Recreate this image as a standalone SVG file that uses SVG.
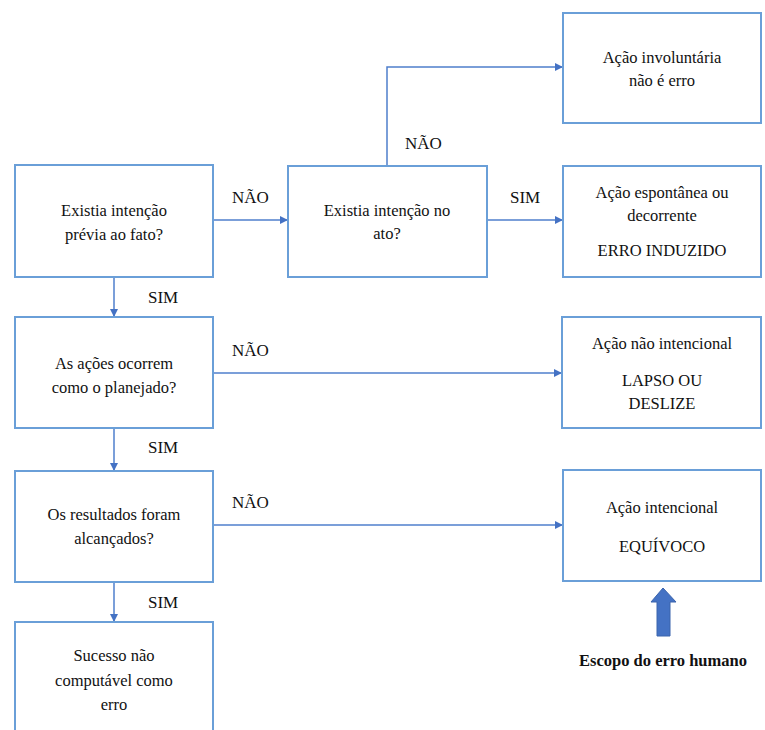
<svg xmlns="http://www.w3.org/2000/svg" width="765" height="730" viewBox="0 0 765 730">
<style>
.box{fill:#fff;stroke:#6a9fd8;stroke-width:2}
.t{font-size:16.5px;text-anchor:middle;fill:#111}
.l{font-size:17px;fill:#111}
.c{fill:none;stroke:#4f7fcc;stroke-width:1.5}
.b{font-size:16.5px;font-weight:bold;text-anchor:middle;fill:#111}
</style>
<defs>
<marker id="ah" viewBox="0 0 10 10" refX="10" refY="5" markerWidth="8" markerHeight="8" markerUnits="userSpaceOnUse" orient="auto">
<path d="M0,0 L10,5 L0,10 z" fill="#4472c4"/>
</marker>
</defs>
<rect width="765" height="730" fill="#fff"/>
<g font-family="Liberation Serif, Times New Roman, Times, serif">
<g id="connectors">
<path class="c" d="M213,220 H288" marker-end="url(#ah)"/>
<path class="c" d="M387,166 V67 H563" marker-end="url(#ah)"/>
<path class="c" d="M487,220 H563" marker-end="url(#ah)"/>
<path class="c" d="M114,277 V317" marker-end="url(#ah)"/>
<path class="c" d="M213,373 H562" marker-end="url(#ah)"/>
<path class="c" d="M114,428 V471" marker-end="url(#ah)"/>
<path class="c" d="M213,525 H563" marker-end="url(#ah)"/>
<path class="c" d="M114,582 V622" marker-end="url(#ah)"/>
<text class="l" x="232" y="203">NÃO</text>
<text class="l" x="405" y="149">NÃO</text>
<text class="l" x="510" y="203">SIM</text>
<text class="l" x="148" y="303">SIM</text>
<text class="l" x="232" y="356">NÃO</text>
<text class="l" x="148" y="453">SIM</text>
<text class="l" x="232" y="508">NÃO</text>
<text class="l" x="148" y="608">SIM</text>
</g>
<g id="n1"><rect class="box" x="15" y="165" width="198" height="112"/>
<text class="t" x="114" y="216">Existia intenção</text><text class="t" x="114" y="240">prévia ao fato?</text></g>
<g id="n2"><rect class="box" x="288" y="166" width="199" height="111"/>
<text class="t" x="387" y="216">Existia intenção no</text><text class="t" x="387" y="239">ato?</text></g>
<g id="n3"><rect class="box" x="563" y="13" width="198" height="110"/>
<text class="t" x="662" y="63">Ação involuntária</text><text class="t" x="662" y="86">não é erro</text></g>
<g id="n4"><rect class="box" x="563" y="166" width="198" height="111"/>
<text class="t" x="662" y="198">Ação espontânea ou</text><text class="t" x="662" y="221">decorrente</text><text class="t" x="662" y="256">ERRO INDUZIDO</text></g>
<g id="n5"><rect class="box" x="15" y="317" width="198" height="111"/>
<text class="t" x="114" y="369">As ações ocorrem</text><text class="t" x="114" y="393">como o planejado?</text></g>
<g id="n6"><rect class="box" x="562" y="317" width="199" height="111"/>
<text class="t" x="662" y="349">Ação não intencional</text><text class="t" x="662" y="386">LAPSO OU</text><text class="t" x="662" y="409">DESLIZE</text></g>
<g id="n7"><rect class="box" x="15" y="471" width="198" height="111"/>
<text class="t" x="114" y="520">Os resultados foram</text><text class="t" x="114" y="544">alcançados?</text></g>
<g id="n8"><rect class="box" x="563" y="470" width="198" height="111"/>
<text class="t" x="662" y="513">Ação intencional</text><text class="t" x="662" y="552">EQUÍVOCO</text></g>
<g id="n9"><rect class="box" x="15" y="622" width="198" height="120"/>
<text class="t" x="114" y="661">Sucesso não</text><text class="t" x="114" y="686">computável como</text><text class="t" x="114" y="710">erro</text></g>
<g id="scope">
<path d="M663,588 L676,602 L670,602 L670,636 L657,636 L657,602 L651,602 z" fill="#4472c4" stroke="#3a64ad" stroke-width="1"/>
<text class="b" x="663" y="666">Escopo do erro humano</text>
</g>
</g>
</svg>
